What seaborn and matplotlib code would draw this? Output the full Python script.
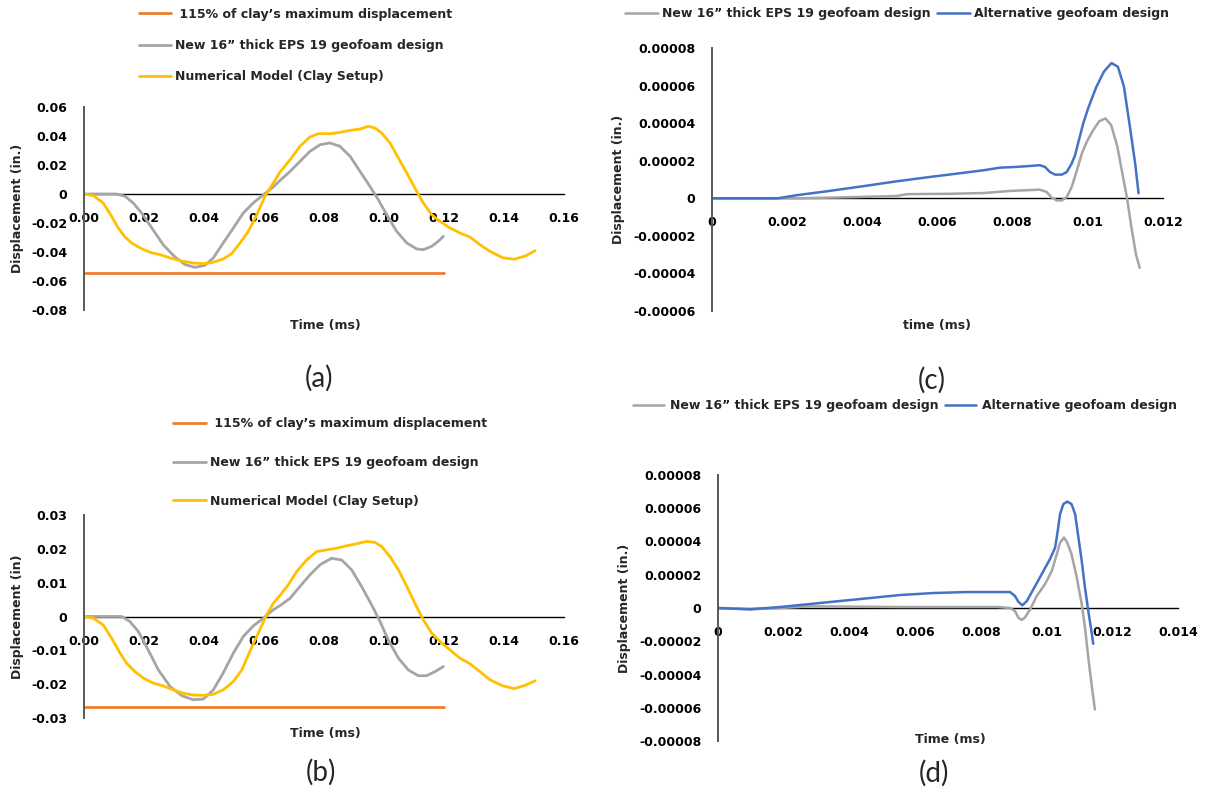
import numpy as np
import pandas as pd
import matplotlib
matplotlib.use("Agg")
import matplotlib.pyplot as plt
import seaborn as sns

# ---------------- data ----------------
# (a) full-scale case
a_t_clay = [0, 0.0031, 0.0064, 0.0092, 0.0114, 0.0137, 0.0159, 0.0187, 0.022, 0.0253, 0.0287,
            0.032, 0.0364, 0.0398, 0.0431, 0.0464, 0.0492, 0.052, 0.0548, 0.0576, 0.0603,
            0.0631, 0.0653, 0.0687, 0.072, 0.0753, 0.0781, 0.082, 0.0853, 0.0887, 0.092,
            0.0948, 0.097, 0.0992, 0.102, 0.1048, 0.1076, 0.1103, 0.1131, 0.1159, 0.1187,
            0.122, 0.1253, 0.1287, 0.132, 0.1353, 0.1396, 0.1434, 0.1472, 0.1504]
a_d_clay = [0, -0.0011, -0.0062, -0.0154, -0.0234, -0.0297, -0.0338, -0.0372, -0.0402,
            -0.0418, -0.0441, -0.046, -0.0476, -0.048, -0.0471, -0.0448, -0.0412, -0.0338,
            -0.0257, -0.0143, -0.0016, 0.0076, 0.0150, 0.0237, 0.0329, 0.0393, 0.0416,
            0.0416, 0.0425, 0.0439, 0.0448, 0.0467, 0.0455, 0.0421, 0.0352, 0.0248, 0.0145,
            0.0041, -0.0062, -0.0143, -0.0189, -0.0234, -0.0269, -0.0297, -0.035, -0.0395,
            -0.044, -0.045, -0.0427, -0.039]
a_t_new = [0, 0.0109, 0.0137, 0.0164, 0.0192, 0.0226, 0.0264, 0.0303, 0.0337, 0.037, 0.0403,
           0.0431, 0.0464, 0.0498, 0.0531, 0.0564, 0.0598, 0.0631, 0.0653, 0.0687, 0.072,
           0.0753, 0.0787, 0.082, 0.0853, 0.0887, 0.092, 0.0953, 0.0981, 0.1009, 0.1042,
           0.1076, 0.1109, 0.1131, 0.1159, 0.1181, 0.1198]
a_d_new = [0, 0, -0.0016, -0.0062, -0.0131, -0.0234, -0.035, -0.0434, -0.0487, -0.0506,
           -0.0492, -0.0441, -0.0338, -0.0234, -0.0131, -0.0062, -0.0005, 0.0048, 0.0093,
           0.0156, 0.0225, 0.0294, 0.034, 0.0352, 0.0329, 0.026, 0.0156, 0.0053, -0.0039,
           -0.0143, -0.0257, -0.0338, -0.0379, -0.0384, -0.0361, -0.0326, -0.0292]
a_t_limit = [0, 0.12]
a_d_limit = [-0.0547, -0.0547]

# (b) scaled case
b_t_clay = [0, 0.0031, 0.0064, 0.0092, 0.012, 0.0142, 0.017, 0.0198, 0.0231, 0.0264, 0.0298,
            0.0331, 0.0364, 0.0398, 0.0431, 0.0464, 0.0498, 0.0526, 0.0553, 0.0581, 0.0609,
            0.0631, 0.0653, 0.0681, 0.0709, 0.0742, 0.0776, 0.0809, 0.0842, 0.0876, 0.0909,
            0.0942, 0.097, 0.0992, 0.102, 0.1048, 0.1076, 0.1103, 0.1131, 0.1159, 0.1187,
            0.122, 0.1253, 0.1287, 0.132, 0.1353, 0.1396, 0.1434, 0.1472, 0.1504]
b_d_clay = [0, -0.0005, -0.0025, -0.0064, -0.0108, -0.0138, -0.0163, -0.0182, -0.0197,
            -0.0205, -0.0217, -0.0227, -0.0232, -0.0233, -0.023, -0.0217, -0.0192, -0.0158,
            -0.0103, -0.0049, 0.0005, 0.0039, 0.0062, 0.0094, 0.0133, 0.0167, 0.0192, 0.0197,
            0.0202, 0.0209, 0.0215, 0.0222, 0.0219, 0.0207, 0.0177, 0.0138, 0.0089, 0.0039,
            -0.001, -0.0049, -0.0074, -0.0099, -0.0123, -0.014, -0.0163, -0.0187, -0.0205,
            -0.0213, -0.0203, -0.019]
b_t_new = [0, 0.0126, 0.0153, 0.0181, 0.0214, 0.0248, 0.0287, 0.0326, 0.0364, 0.0398, 0.0431,
           0.0464, 0.0498, 0.0531, 0.0564, 0.0598, 0.0631, 0.0653, 0.0687, 0.072, 0.0753,
           0.0787, 0.0825, 0.0859, 0.0892, 0.0925, 0.0959, 0.0987, 0.1014, 0.1048, 0.1081,
           0.1114, 0.1142, 0.117, 0.1198]
b_d_new = [0, 0, -0.0015, -0.0044, -0.0099, -0.0158, -0.0207, -0.0234, -0.0246, -0.0244,
           -0.0217, -0.0167, -0.0108, -0.0059, -0.0028, -0.0005, 0.002, 0.0032, 0.0054,
           0.0089, 0.0123, 0.0153, 0.0172, 0.0167, 0.0138, 0.0089, 0.0034, -0.0015, -0.0069,
           -0.0123, -0.0158, -0.0175, -0.0175, -0.0163, -0.0148]
b_t_limit = [0, 0.12]
b_d_limit = [-0.0268, -0.0268]

# (c) new design vs alternative design
c_t_new = [0, 0.0023, 0.0037, 0.0049, 0.0052, 0.00633, 0.00722, 0.00793, 0.00872, 0.0089,
           0.00904, 0.00917, 0.00931, 0.00944, 0.00957, 0.00971, 0.00984, 0.00997, 0.01012,
           0.01030, 0.01047, 0.01062, 0.01078, 0.01093, 0.01104, 0.01116, 0.01128, 0.01138]
c_d_new = [0, 0, 0.06e-5, 0.12e-5, 0.22e-5, 0.24e-5, 0.28e-5, 0.39e-5, 0.46e-5, 0.34e-5,
           0.04e-5, -0.11e-5, -0.11e-5, 0.07e-5, 0.6e-5, 1.49e-5, 2.38e-5, 3.0e-5, 3.55e-5,
           4.1e-5, 4.25e-5, 3.9e-5, 2.8e-5, 1.2e-5, 0.05e-5, -1.55e-5, -2.98e-5, -3.7e-5]
c_t_alt = [0, 0.00175, 0.00224, 0.00312, 0.00401, 0.0049, 0.00578, 0.00667, 0.00722, 0.00766,
           0.0081, 0.00846, 0.00872, 0.00886, 0.00899, 0.00913, 0.00931, 0.00944, 0.00957,
           0.00966, 0.00975, 0.00988, 0.01001, 0.01022, 0.01043, 0.01063, 0.0108, 0.01096,
           0.01112, 0.01126, 0.01135]
c_d_alt = [0, 0, 0.16e-5, 0.39e-5, 0.64e-5, 0.9e-5, 1.13e-5, 1.35e-5, 1.49e-5, 1.63e-5,
           1.67e-5, 1.72e-5, 1.76e-5, 1.67e-5, 1.4e-5, 1.26e-5, 1.26e-5, 1.4e-5, 1.85e-5,
           2.29e-5, 3.0e-5, 4.0e-5, 4.8e-5, 5.9e-5, 6.75e-5, 7.2e-5, 7.0e-5, 5.95e-5,
           3.8e-5, 1.84e-5, 0.27e-5]

# (d)
d_t_new = [0, 0.00097, 0.00189, 0.0028, 0.0055, 0.0085, 0.00889, 0.00904, 0.00914, 0.00924,
           0.00934, 0.0095, 0.0097, 0.00995, 0.01016, 0.01031, 0.01041, 0.01053, 0.01063,
           0.01076, 0.01092, 0.01107, 0.01117, 0.01127, 0.01137, 0.01147]
d_d_new = [0, -0.08e-5, 0, 0.1e-5, 0.06e-5, 0.06e-5, 0, -0.18e-5, -0.58e-5, -0.72e-5,
           -0.58e-5, -0.08e-5, 0.72e-5, 1.43e-5, 2.23e-5, 3.23e-5, 3.93e-5, 4.24e-5, 3.93e-5,
           3.23e-5, 1.83e-5, 0.22e-5, -1.19e-5, -2.99e-5, -4.6e-5, -6.1e-5]
d_t_alt = [0, 0.00097, 0.00189, 0.0025, 0.00351, 0.00453, 0.00554, 0.00655, 0.00757, 0.00889,
           0.00904, 0.00914, 0.00926, 0.0094, 0.0096, 0.00985, 0.0101, 0.01026, 0.01034,
           0.01041, 0.01051, 0.01063, 0.01076, 0.01087, 0.01097, 0.01107, 0.01117, 0.01127,
           0.01135, 0.01142]
d_d_alt = [0, -0.08e-5, 0.06e-5, 0.18e-5, 0.38e-5, 0.58e-5, 0.78e-5, 0.9e-5, 0.96e-5,
           0.96e-5, 0.72e-5, 0.38e-5, 0.16e-5, 0.42e-5, 1.13e-5, 2.03e-5, 2.93e-5, 3.63e-5,
           4.64e-5, 5.64e-5, 6.25e-5, 6.4e-5, 6.25e-5, 5.64e-5, 4.24e-5, 2.83e-5, 1.22e-5,
           -0.18e-5, -1.19e-5, -2.15e-5]

# tick labels as printed
ab_xticks = [0, 0.02, 0.04, 0.06, 0.08, 0.10, 0.12, 0.14, 0.16]
ab_xlabels = ["0.00", "0.02", "0.04", "0.06", "0.08", "0.10", "0.12", "0.14", "0.16"]
a_yticks = [0.06, 0.04, 0.02, 0, -0.02, -0.04, -0.06, -0.08]
a_ylabels = ["0.06", "0.04", "0.02", "0", "-0.02", "-0.04", "-0.06", "-0.08"]
b_yticks = [0.03, 0.02, 0.01, 0, -0.01, -0.02, -0.03]
b_ylabels = ["0.03", "0.02", "0.01", "0", "-0.01", "-0.02", "-0.03"]
c_xticks = [0, 0.002, 0.004, 0.006, 0.008, 0.01, 0.012]
c_xlabels = ["0", "0.002", "0.004", "0.006", "0.008", "0.01", "0.012"]
c_yticks = [8e-5, 6e-5, 4e-5, 2e-5, 0, -2e-5, -4e-5, -6e-5]
c_ylabels = ["0.00008", "0.00006", "0.00004", "0.00002", "0", "-0.00002", "-0.00004", "-0.00006"]
d_xticks = [0, 0.002, 0.004, 0.006, 0.008, 0.01, 0.012, 0.014]
d_xlabels = ["0", "0.002", "0.004", "0.006", "0.008", "0.01", "0.012", "0.014"]
d_yticks = [8e-5, 6e-5, 4e-5, 2e-5, 0, -2e-5, -4e-5, -6e-5, -8e-5]
d_ylabels = ["0.00008", "0.00006", "0.00004", "0.00002", "0", "-0.00002", "-0.00004",
             "-0.00006", "-0.00008"]

lbl_limit = " 115% of clay\u2019s maximum displacement"
lbl_new = "New 16\u201d thick EPS 19 geofoam design"
lbl_clay = "Numerical Model (Clay Setup)"
lbl_alt = "Alternative geofoam design"

ORANGE = "#ED7D31"
GRAY = "#A5A5A5"
YELLOW = "#FFC000"
BLUE = "#4472C4"
FS = 9

sns.set_style("white")
plt.rcParams['font.family'] = ['DejaVu Sans']
plt.rcParams['font.weight'] = 'bold'

W, H = 1207, 790
fig = plt.figure(figsize=(W / 100, H / 100), dpi=100)


def rect(left, top, right, bottom):
    return [left / W, 1 - bottom / H, (right - left) / W, (bottom - top) / H]


def pt(x, y):
    return x / W, 1 - y / H


def panel(box, series, xlim, ylim, xt, xl, yt, yl, ylabel, lw):
    ax = fig.add_axes(rect(*box))
    for t, d, c, name in series:
        df = pd.DataFrame({"t": t, "d": d})
        sns.lineplot(data=df, x="t", y="d", ax=ax, color=c, linewidth=lw,
                     label=name, estimator=None, sort=False)
    ax.set_xlim(*xlim)
    ax.set_ylim(*ylim)
    ax.set_xticks(xt)
    ax.set_xticklabels(xl)
    ax.set_yticks(yt)
    ax.set_yticklabels(yl)
    for s in ["top", "right"]:
        ax.spines[s].set_visible(False)
    ax.spines["bottom"].set_position(("data", 0))
    ax.spines["bottom"].set_zorder(0.5)
    ax.spines["bottom"].set_color("black")
    ax.spines["bottom"].set_linewidth(1.0)
    ax.spines["left"].set_color("#595959")
    ax.spines["left"].set_linewidth(1.4)
    ax.tick_params(axis="both", length=0, labelsize=FS, colors="black")
    ax.tick_params(axis="x", pad=13)
    ax.tick_params(axis="y", pad=12)
    ax.set_xlabel("")
    ax.set_ylabel(ylabel, fontsize=FS, fontweight="bold", labelpad=5.5)
    ax.set_facecolor("none")
    return ax


def caption(x, y, s):
    fig.text(*pt(x, y), s, ha="center", va="center", fontsize=20,
             fontweight="normal", family=["Lato", "DejaVu Sans"])


def xtitle(x, y, s):
    fig.text(*pt(x, y), s, ha="center", va="center", fontsize=FS, fontweight="bold")


# (a)
ax_a = panel((84, 107, 564, 310),
             [(a_t_limit, a_d_limit, ORANGE, lbl_limit),
              (a_t_new, a_d_new, GRAY, lbl_new),
              (a_t_clay, a_d_clay, YELLOW, lbl_clay)],
             (0, 0.16), (-0.08, 0.06), ab_xticks, ab_xlabels, a_yticks, a_ylabels,
             "Displacement (in.)", 2.0)
ax_a.legend(loc="center left", bbox_to_anchor=pt(138.5, 45.5), bbox_transform=fig.transFigure,
            frameon=False, fontsize=FS, handlelength=2.6, handletextpad=0.32,
            labelspacing=1.47, borderpad=0, borderaxespad=0)
xtitle(325, 325, "Time (ms)")
caption(318.5, 378, "(a)")

# (b)
ax_b = panel((84, 515, 564, 718),
             [(b_t_limit, b_d_limit, ORANGE, lbl_limit),
              (b_t_new, b_d_new, GRAY, lbl_new),
              (b_t_clay, b_d_clay, YELLOW, lbl_clay)],
             (0, 0.16), (-0.03, 0.03), ab_xticks, ab_xlabels, b_yticks, b_ylabels,
             "Displacement (in)", 2.0)
ax_b.legend(loc="center left", bbox_to_anchor=pt(173, 462.5), bbox_transform=fig.transFigure,
            frameon=False, fontsize=FS, handlelength=2.6, handletextpad=0.32,
            labelspacing=2.05, borderpad=0, borderaxespad=0)
xtitle(325, 733, "Time (ms)")
caption(321, 772, "(b)")

# (c)
ax_c = panel((712, 48, 1163, 311),
             [(c_t_new, c_d_new, GRAY, lbl_new),
              (c_t_alt, c_d_alt, BLUE, lbl_alt)],
             (0, 0.012), (-6e-5, 8e-5), c_xticks, c_xlabels, c_yticks, c_ylabels,
             "Displacement (in.)", 1.8)
ax_c.legend(loc="center left", bbox_to_anchor=pt(625, 14), bbox_transform=fig.transFigure,
            frameon=False, fontsize=FS, ncol=2, handlelength=2.6, handletextpad=0.32,
            columnspacing=0.55, borderpad=0, borderaxespad=0)
xtitle(937, 325, "time (ms)")
caption(932, 380, "(c)")

# (d)
ax_d = panel((718, 475, 1178, 741),
             [(d_t_new, d_d_new, GRAY, lbl_new),
              (d_t_alt, d_d_alt, BLUE, lbl_alt)],
             (0, 0.014), (-8e-5, 8e-5), d_xticks, d_xlabels, d_yticks, d_ylabels,
             "Displacement (in.)", 1.8)
ax_d.legend(loc="center left", bbox_to_anchor=pt(633, 406), bbox_transform=fig.transFigure,
            frameon=False, fontsize=FS, ncol=2, handlelength=2.5, handletextpad=0.45,
            columnspacing=0.5, borderpad=0, borderaxespad=0)
xtitle(950, 739, "Time (ms)")
caption(934, 773, "(d)")

fig.savefig("out.png", dpi=100)
